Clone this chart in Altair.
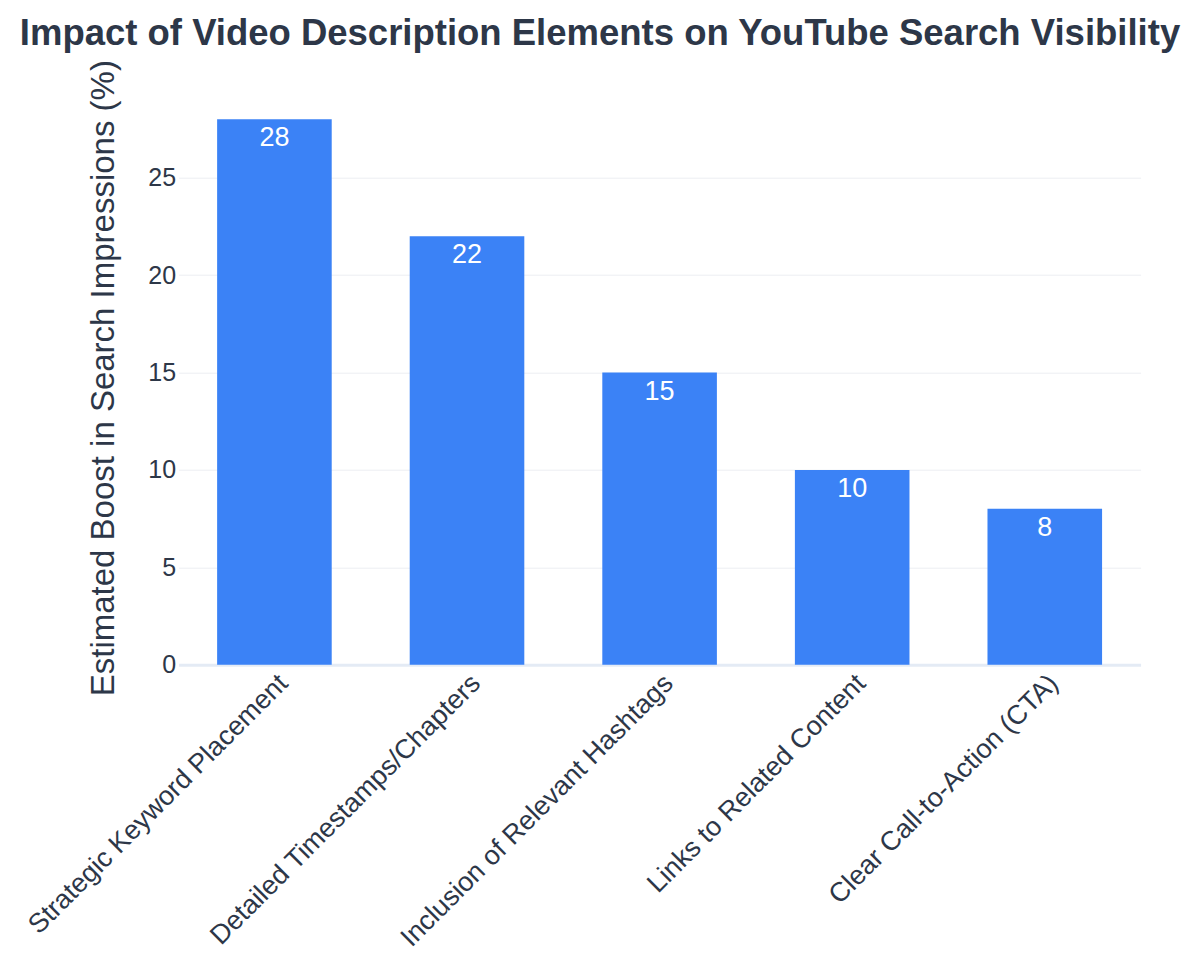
import altair as alt
import pandas as pd

categories = [
    "Strategic Keyword Placement",
    "Detailed Timestamps/Chapters",
    "Inclusion of Relevant Hashtags",
    "Links to Related Content",
    "Clear Call-to-Action (CTA)",
]
values = [28, 22, 15, 10, 8]
y_ticks = [0, 5, 10, 15, 20, 25]

df = pd.DataFrame({"element": categories, "boost": values})

FONT = "Liberation Sans"
DARK = "#2d3748"

x_enc = alt.X(
    "element:N",
    sort=categories,
    title=None,
    scale=alt.Scale(paddingInner=0.405, paddingOuter=0.2),
    axis=alt.Axis(
        labelAngle=-45,
        labelFontSize=27,
        labelFont=FONT,
        labelColor=DARK,
        ticks=False,
        domain=False,
        labelPadding=5,
        labelLimit=0,
        grid=False,
    ),
)

y_enc = alt.Y(
    "boost:Q",
    scale=alt.Scale(domain=[0, 29.47], nice=False, zero=True),
    title="Estimated Boost in Search Impressions (%)",
    axis=alt.Axis(
        values=y_ticks,
        labelFontSize=25,
        labelFont=FONT,
        labelColor=DARK,
        labelPadding=3,
        ticks=False,
        domain=False,
        grid=True,
        gridColor=alt.condition("datum.value == 0", alt.value("#e4ebf5"), alt.value("#eceef2")),
        gridWidth=alt.condition("datum.value == 0", alt.value(3), alt.value(1)),
        titleFontSize=33,
        titleFont=FONT,
        titleFontWeight="normal",
        titleColor=DARK,
        titleAngle=270,
        titleAlign="center",
        titleBaseline="alphabetic",
        titleX=-65,
        titleY=287,
    ),
)

bars = alt.Chart(df).mark_bar(color="#3b82f6").encode(x=x_enc, y=y_enc)

labels = alt.Chart(df).mark_text(
    baseline="alphabetic",
    dy=27,
    fontSize=27,
    font=FONT,
    color="white",
).encode(x=alt.X("element:N", sort=categories), y=alt.Y("boost:Q"), text=alt.Text("boost:Q"))

chart = (
    alt.layer(bars, labels)
    .properties(
        width=962,
        height=574,
        title=alt.TitleParams(
            text="Impact of Video Description Elements on YouTube Search Visibility",
            fontSize=36.5,
            font=FONT,
            fontWeight="bold",
            color=DARK,
            anchor="middle",
            dx=-59.6,
            dy=38,
            offset=16,
            baseline="alphabetic",
        ),
        autosize=alt.AutoSizeParams(type="none"),
        padding={"left": 170.6, "top": 82.7, "right": 51.4, "bottom": 290},
    )
    .configure(background="white")
    .configure_view(strokeWidth=0, stroke="transparent")
)

chart.save("out.html", embed_options={"renderer": "svg", "actions": False})
